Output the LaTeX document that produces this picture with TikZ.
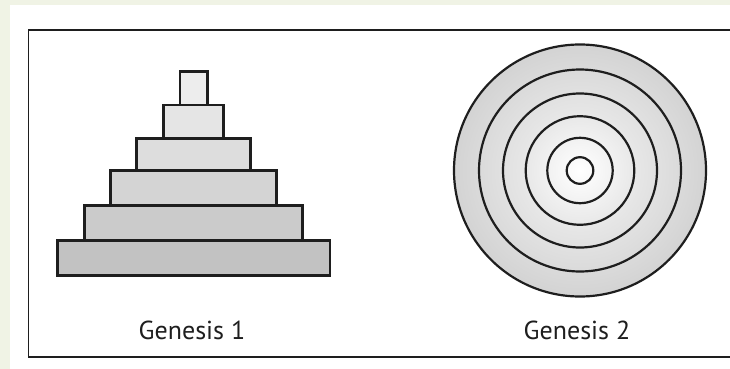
\documentclass[tikz,border=0pt]{standalone}
\usepackage{fontspec}
\setmainfont{PT Sans}
\usepackage{xcolor}
\definecolor{strip}{RGB}{240,243,229}
\definecolor{ink}{RGB}{30,30,30}
\pgfdeclareradialshading{ringfade}{\pgfpoint{0bp}{0bp}}{%
  color(0bp)=(white); color(12bp)=(gray!20); color(30bp)=(gray!40);
  color(50bp)=(gray!52)}

\begin{document}
\begin{tikzpicture}[
  x=1pt, y=-1pt,
  step box/.style={draw=ink, line width=2.6pt, line join=miter},
  ring/.style={draw=ink, line width=2.2pt},
  caption/.style={anchor=base, font=\fontsize{26}{30}\selectfont, text=ink},
]

\useasboundingbox (0,0) rectangle (730,369);

% ---- paper ----
\fill[strip] (0,0) rectangle (730,369);
\fill[white] (10,5) rectangle (730,369);
\draw[ink, line width=1.5pt] (730,30) -- (28.5,30) -- (28.5,357) -- (730,357);

% ---- genesis 1: stacked steps ----
\foreach \hw/\yt/\yb/\g in {13.7/71.7/105/14, 30/105/138.3/20, 57/138.3/170.7/27,
                            83/170.7/205.7/34, 108.8/205.7/240.7/41, 136.3/240.7/275.7/48}{
  \filldraw[step box, fill=gray!\g] (193.5-\hw,\yt) rectangle (193.5+\hw,\yb);
}

% ---- genesis 2: rings ----
\shade[shading=ringfade] (580,170.5) circle[radius=126];
\foreach \r in {126,101,77,54.3,32.7,13.3}{
  \draw[ring] (580,170.5) circle[radius=\r];
}

% ---- captions ----
\node[caption] (lbl1) at (192,339) {Genesis 1};
\node[caption] (lbl2) at (577,339) {Genesis 2};

\end{tikzpicture}
\end{document}
